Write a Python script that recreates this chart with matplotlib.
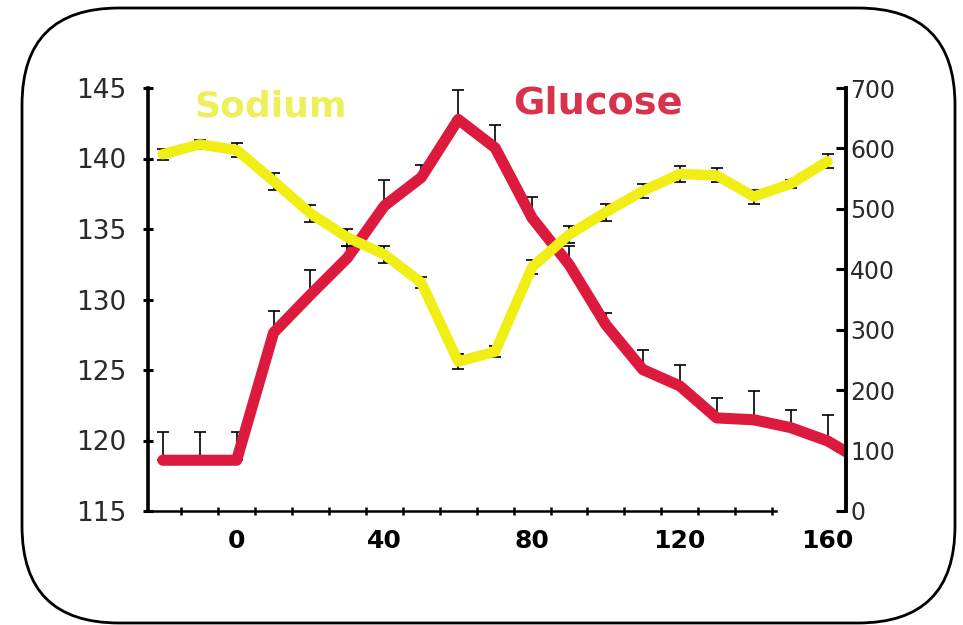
import numpy as np
import matplotlib.pyplot as plt
from matplotlib.patches import FancyBboxPatch

# --- Data ---
sodium_time = [-20, -10, 0, 10, 20, 30, 40, 50, 60, 70, 80, 90, 100, 110, 120, 130, 140, 150, 160]
sodium = [140.3, 141.0, 140.6, 138.4, 136.1, 134.4, 133.2, 131.2, 125.6, 126.3,
          132.3, 134.6, 136.2, 137.7, 138.9, 138.8, 137.3, 138.2, 139.8]
sodium_err = [0.4, 0.3, 0.5, 0.6, 0.6, 0.6, 0.6, 0.4, 0.5, 0.4,
              0.5, 0.6, 0.6, 0.5, 0.6, 0.5, 0.5, 0.3, 0.5]

glucose_time = [-20, -10, 0, 10, 20, 30, 40, 50, 60, 70, 80, 90, 100, 110, 120, 130, 140, 150, 160, 165]
glucose = [84, 84, 84, 295, 358, 419, 505, 552, 648, 601,
           485, 408, 308, 234, 207, 154, 151, 138, 116, 98]
# upper error only (one-sided bars above the curve)
glucose_err = [47, 47, 47, 36, 41, 20, 42, 20, 49, 37,
               34, 30, 20, 33, 35, 33, 48, 29, 43]

x_labels = [0, 40, 80, 120, 160]
left_ticks = [115, 120, 125, 130, 135, 140, 145]
right_ticks = [0, 100, 200, 300, 400, 500, 600, 700]

yellow = '#f0ee14'
red = '#dc1a3e'

# --- Figure ---
W, H = 963, 625
fig = plt.figure(figsize=(W / 100, H / 100), dpi=100)

# rounded frame around everything
bg = fig.add_axes([0, 0, 1, 1], zorder=-1)
bg.set_xlim(0, W)
bg.set_ylim(0, H)
bg.axis('off')
bg.add_patch(FancyBboxPatch((22, 2), 933, 615, boxstyle='round,pad=0,rounding_size=97',
                            fill=False, ec='black', lw=2))

ax = fig.add_axes([148 / W, 1 - 511 / H, (846 - 148) / W, (511 - 88) / H])
ax2 = ax.twinx()
# sodium curve sits on top of glucose curve
ax.set_zorder(ax2.get_zorder() + 1)
ax.patch.set_visible(False)

# glucose (right axis)
n = len(glucose_err)
ax2.errorbar(glucose_time[:n], glucose[:n], yerr=[np.zeros(n), glucose_err], fmt='none',
             ecolor='black', elinewidth=1.2, capsize=4, capthick=1.2, zorder=1)
ax2.plot(glucose_time, glucose, color=red, lw=8, solid_joinstyle='round',
         solid_capstyle='round', zorder=2)

# sodium (left axis)
ax.errorbar(sodium_time, sodium, yerr=sodium_err, fmt='none', ecolor='black',
            elinewidth=1.2, capsize=4, capthick=1.2, zorder=1)
ax.plot(sodium_time, sodium, color=yellow, lw=7.5, solid_joinstyle='round',
        solid_capstyle='round', zorder=2)

ax.text(-11.4, 143.7, 'Sodium', color='#eef05a', fontsize=26, fontweight='bold', va='center')
ax.text(74.8, 143.9, 'Glucose', color='#d8324c', fontsize=27.5, fontweight='bold', va='center')

# axes limits
ax.set_xlim(-24, 165)
ax.set_ylim(115, 145)
ax2.set_ylim(0, 700)

# spines
for s in ['top', 'right']:
    ax.spines[s].set_visible(False)
for s in ['top', 'left', 'bottom']:
    ax2.spines[s].set_visible(False)
ax.spines['left'].set_linewidth(2.6)
ax.spines['bottom'].set_linewidth(1.8)
ax.spines['bottom'].set_bounds(-24, 146)
ax2.spines['right'].set_linewidth(2.8)

# x ticks: labels at 0,40.. and small marks at -15,-5,...
ax.set_xticks(x_labels)
ax.set_xticklabels([str(v) for v in x_labels], fontsize=18, fontweight='bold')
ax.set_xticks(np.arange(-15, 150, 10), minor=True)
ax.tick_params(axis='x', which='major', length=0, pad=13)
ax.tick_params(axis='x', which='minor', length=6, width=1.8, direction='inout')

ax.set_yticks(left_ticks)
ax.tick_params(axis='y', which='major', length=7, width=2.2, direction='inout',
               labelsize=19, labelcolor='#2a2a2a', pad=12)

ax2.set_yticks(right_ticks)
ax2.tick_params(axis='y', which='major', length=7, width=2.2, direction='in',
                labelsize=17, labelcolor='#2a2a2a', pad=3)

fig.savefig('out.png', dpi=100, facecolor='white')
